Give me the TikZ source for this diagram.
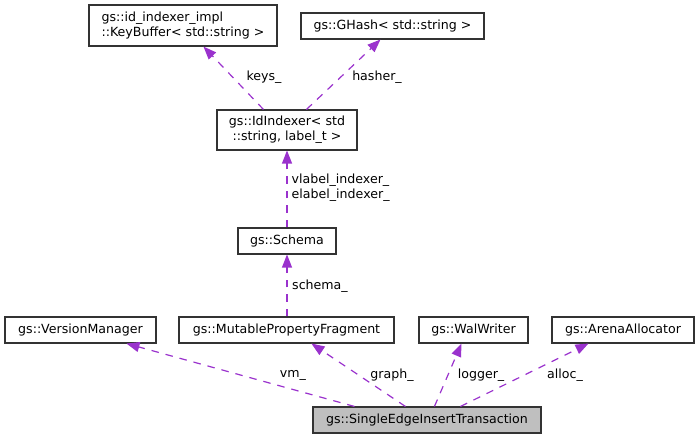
\documentclass[tikz,border=0pt]{standalone}
\usepackage{fontspec}
\setmainfont{DejaVu Sans}
\usetikzlibrary{arrows.meta}
\definecolor{edgec}{HTML}{9A32CD}
\definecolor{boxborder}{HTML}{333333}
\definecolor{selfill}{HTML}{BFBFBF}
\begin{document}
\begin{tikzpicture}[x=1pt,y=-1pt,
  every node/.style={font=\fontsize{12.6}{15}\selectfont},
  cls/.style={draw=boxborder, line width=1.1pt, fill=white, inner sep=0pt, minimum height=26pt, text=black},
  selcls/.style={cls, fill=selfill},
  uses/.style={draw=edgec, line width=1.2pt, dash pattern=on 7.5pt off 7pt, -{Triangle[length=13pt,width=10pt,fill=edgec]}},
  elabel/.style={inner sep=0pt, text=black}]
\useasboundingbox (0,0) rectangle (699,439);
% nodes
\node[cls, minimum width=188pt, minimum height=41pt, align=left] (kb) at (183,25.5) {gs::id\_indexer\_impl\\::KeyBuffer< std::string >};
\node[cls, minimum width=183pt] (gh) at (392.5,26) {gs::GHash< std::string >};
\node[cls, minimum width=140pt, minimum height=40pt, align=center] (idx) at (287,130) {gs::IdIndexer< std\\::string, label\_t >};
\node[cls, minimum width=98pt] (sch) at (287,241) {gs::Schema};
\node[cls, minimum width=151pt] (vm) at (80.5,330) {gs::VersionManager};
\node[cls, minimum width=215pt] (mpf) at (286.5,330) {gs::MutablePropertyFragment};
\node[cls, minimum width=109pt] (ww) at (473.5,330) {gs::WalWriter};
\node[cls, minimum width=142pt] (aa) at (623,330) {gs::ArenaAllocator};
\node[selcls, minimum width=228pt] (se) at (427,420) {gs::SingleEdgeInsertTransaction};
% edges
\draw[uses] ([xshift=42pt]se.north west) -- ([xshift=122pt]vm.south west);
\draw[uses] ([xshift=93pt]se.north west) -- ([xshift=133pt]mpf.south west);
\draw[uses] ([xshift=122pt]se.north west) -- ([xshift=43pt]ww.south west);
\draw[uses] ([xshift=148pt]se.north west) -- ([xshift=37pt]aa.south west);
\draw[uses] ([xshift=0.5pt]mpf.north) -- (sch.south);
\draw[uses] (sch.north) -- (idx.south);
\draw[uses] ([xshift=47pt]idx.north west) -- ([xshift=115pt]kb.south west);
\draw[uses] ([xshift=90pt]idx.north west) -- ([xshift=80pt]gh.south west);
% labels
\node[elabel] (lvm) at (293,375) {vm\_};
\node[elabel] (lgraph) at (392,375) {graph\_};
\node[elabel] (llogger) at (481,375) {logger\_};
\node[elabel] (lalloc) at (565,375) {alloc\_};
\node[elabel, anchor=west] (lschema) at (292,286) {schema\_};
\node[elabel, anchor=west, align=left] (lvl) at (291.5,188) {vlabel\_indexer\_\\elabel\_indexer\_};
\node[elabel] (lkeys) at (264,77) {keys\_};
\node[elabel] (lhasher) at (377,77) {hasher\_};
\end{tikzpicture}
\end{document}
